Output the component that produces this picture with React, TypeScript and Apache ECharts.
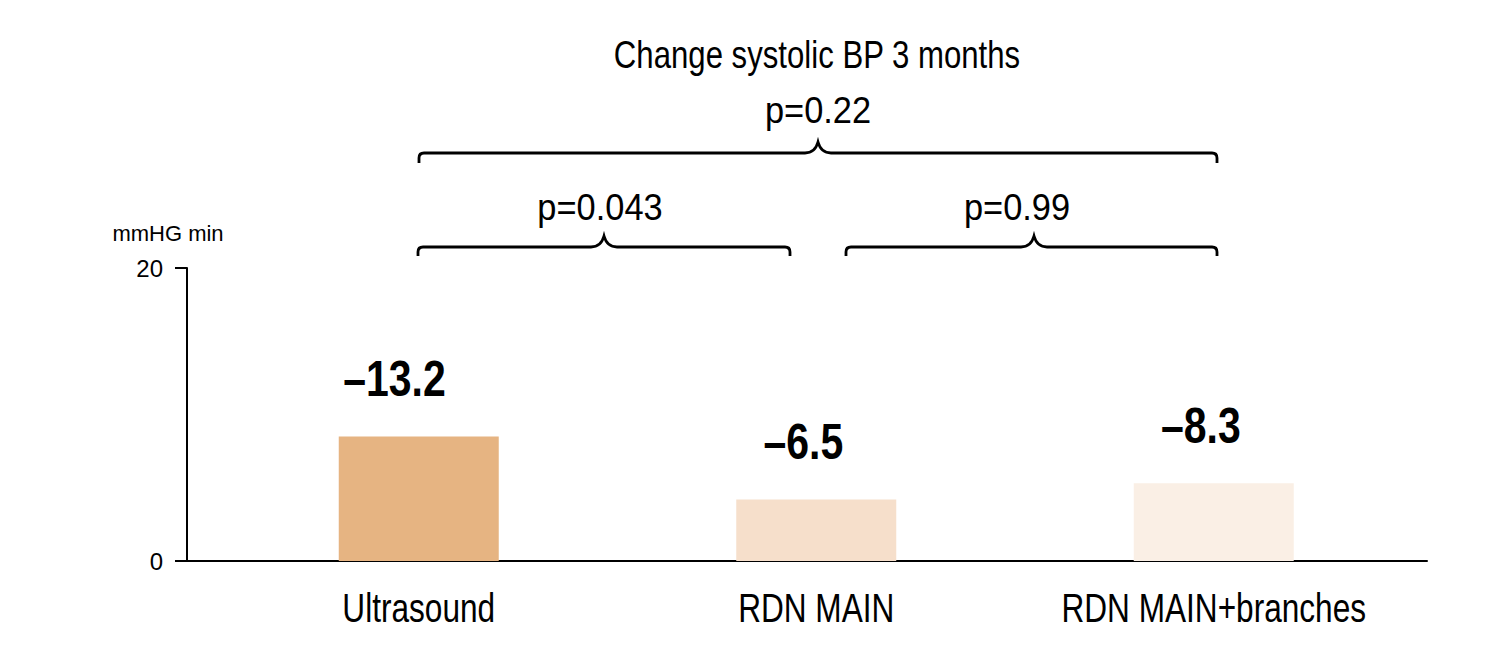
import React, { useEffect, useRef } from "react";
import * as echarts from "echarts";

const categories = ["Ultrasound", "RDN MAIN", "RDN MAIN+branches"];
const barHeights = [8.5, 4.2, 5.3];
const barLabels = ["–13.2", "–6.5", "–8.3"];
const barColors = ["#E6B482", "#F6DFCB", "#FAEFE5"];
const yMin = 0;
const yMax = 20;
const yInterval = 20;
const title = "Change systolic BP 3 months";
const pOverall = "p=0.22";
const pLeft = "p=0.043";
const pRight = "p=0.99";
const yUnit = "mmHG min";

const FONT = "Liberation Sans, Arial, sans-serif";

function bracePath(x1: number, x2: number, xc: number, y: number, h: number, drop: number) {
  const r = 5;
  return `M${x1} ${y + drop} L${x1} ${y + r} Q${x1} ${y} ${x1 + r} ${y} L${xc - 13} ${y} Q${xc - 3} ${y} ${xc} ${y - h} Q${xc + 3} ${y} ${xc + 13} ${y} L${x2 - r} ${y} Q${x2} ${y} ${x2} ${y + r} L${x2} ${y + drop}`;
}

let registered = false;
function registerBraces() {
  if (registered) return;
  registered = true;
  echarts.graphic.registerShape("braceTop", echarts.graphic.extendPath(bracePath(419, 1217, 818, 153, 11, 10), {}));
  echarts.graphic.registerShape("braceLeft", echarts.graphic.extendPath(bracePath(418, 790, 604, 247, 11, 9), {}));
  echarts.graphic.registerShape("braceRight", echarts.graphic.extendPath(bracePath(846, 1217, 1034, 247, 11, 9), {}));
}

function textStyle(t: string, font: string, align: string = "center") {
  return {
    text: t,
    fill: "#000",
    font,
    align,
    verticalAlign: "middle",
    textAlign: align,
    textVerticalAlign: "middle",
  };
}

export default function App() {
  const ref = useRef<HTMLDivElement>(null);
  useEffect(() => {
    if (!ref.current) return;
    registerBraces();
    const chart = echarts.init(ref.current, null, { renderer: "svg" });
    const braceStyle = { fill: "none", stroke: "#000", lineWidth: 2.8 };
    const txt = (t: string, x: number, y: number, size: number, sx: number) => ({
      type: "text",
      x,
      y,
      scaleX: sx,
      style: textStyle(t, `${size}px ${FONT}`),
    });
    chart.setOption({
      animation: false,
      backgroundColor: "#fff",
      grid: [
        { left: 220, right: 99.5, top: 268, bottom: 94 },
        { left: 187, right: 85, top: 268, bottom: 94 },
      ],
      xAxis: [
        {
          type: "category",
          gridIndex: 0,
          data: categories,
          axisLine: { show: false },
          axisTick: { show: false },
          axisLabel: { show: false },
        },
        {
          type: "value",
          gridIndex: 1,
          min: 0,
          max: 1,
          axisLine: { show: true, lineStyle: { color: "#000", width: 2 } },
          axisTick: { show: false },
          axisLabel: { show: false },
          splitLine: { show: false },
        },
      ],
      yAxis: [
        { type: "value", gridIndex: 0, min: yMin, max: yMax, show: false, splitLine: { show: false } },
        {
          type: "value",
          gridIndex: 1,
          min: yMin,
          max: yMax,
          interval: yInterval,
          axisLine: { show: true, lineStyle: { color: "#000", width: 2 } },
          axisTick: { show: true, length: 12, lineStyle: { color: "#000", width: 2 } },
          axisLabel: { color: "#000", fontSize: 24, fontFamily: FONT, margin: 24 },
          splitLine: { show: false },
        },
      ],
      series: [
        {
          type: "bar",
          xAxisIndex: 0,
          yAxisIndex: 0,
          barWidth: 160,
          z: 1,
          data: barHeights.map((v, i) => ({ value: v, itemStyle: { color: barColors[i] } })),
        },
        {
          type: "custom",
          xAxisIndex: 0,
          yAxisIndex: 0,
          z: 5,
          clip: false,
          data: barHeights.map((v, i) => [i, v]),
          renderItem: (params: any, api: any) => {
            const p = api.coord([api.value(0), api.value(1)]);
            return {
              type: "text",
              x: p[0] + 27,
              y: p[1] - 57,
              scaleX: 0.82,
              style: textStyle(barLabels[params.dataIndex], `bold 50px ${FONT}`, "right"),
            };
          },
        },
        {
          type: "custom",
          xAxisIndex: 0,
          yAxisIndex: 0,
          z: 5,
          clip: false,
          data: categories.map((c, i) => [i, yMin]),
          renderItem: (params: any, api: any) => {
            const p = api.coord([api.value(0), api.value(1)]);
            return {
              type: "text",
              x: p[0],
              y: p[1] + 47,
              scaleX: 0.79,
              style: textStyle(categories[params.dataIndex], `40px ${FONT}`),
            };
          },
        },
      ],
      graphic: [
        { type: "braceTop", style: braceStyle },
        { type: "braceLeft", style: braceStyle },
        { type: "braceRight", style: braceStyle },
        txt(title, 817, 55, 38, 0.82),
        txt(pOverall, 818, 111, 37, 0.93),
        txt(pLeft, 600, 208, 37, 0.93),
        txt(pRight, 1017, 208, 37, 0.93),
        txt(yUnit, 168, 233, 22, 1),
      ],
    });
    return () => chart.dispose();
  }, []);
  return <div ref={ref} style={{ position: "fixed", left: 0, top: 0, width: 1512, height: 655 }} />;
}
